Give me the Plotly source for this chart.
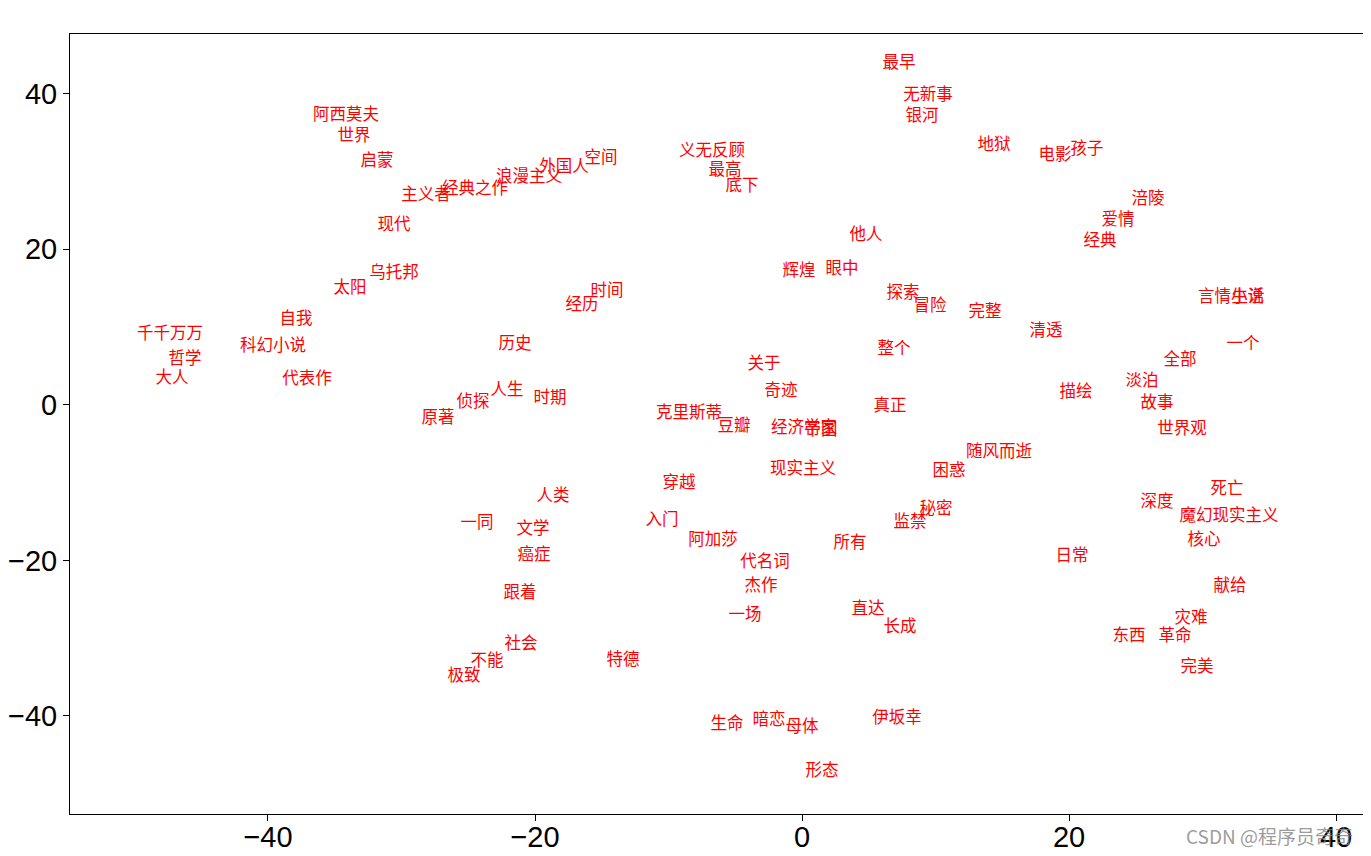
import plotly.graph_objects as go

words = ["阿西莫夫", "世界", "启蒙", "主义者", "经典之作", "现代", "乌托邦", "太阳", "自我", "千千万万",
         "科幻小说", "哲学", "大人", "代表作", "浪漫主义", "外国人", "空间", "义无反顾", "最高", "底下",
         "时间", "经历", "最早", "无新事", "银河", "地狱", "他人", "电影", "孩子", "涪陵",
         "爱情", "经典", "言情小说", "生活", "完整", "清透", "一个", "全部", "历史", "人生",
         "时期", "侦探", "原著", "关于", "奇迹", "克里斯蒂", "豆瓣", "经济学家", "帝国", "现实主义",
         "穿越", "人类", "一同", "文学", "入门", "阿加莎", "癌症", "代名词", "辉煌", "眼中",
         "探索", "冒险", "整个", "真正", "随风而逝", "困惑", "描绘", "淡泊", "故事", "世界观",
         "死亡", "深度", "魔幻现实主义", "核心", "日常", "献给", "灾难", "东西", "革命", "完美",
         "秘密", "监禁", "所有", "杰作", "一场", "直达", "长成", "生命", "暗恋", "母体",
         "伊坂幸", "形态", "跟着", "社会", "不能", "极致", "特德"]

x_vals = [-34.16, -33.56, -31.84, -28.16, -24.49, -30.56, -30.56, -33.86, -37.90, -47.34,
          -39.63, -46.22, -47.19, -37.08, -20.45, -17.83, -15.06, -6.74, -5.77, -4.49,
          -14.61, -16.48, 7.27, 9.44, 8.99, 14.38, 4.79, 18.95, 21.35, 25.92,
          23.67, 22.32, 32.13, 33.41, 13.71, 18.28, 33.03, 28.31, -21.50, -22.10,
          -18.88, -24.64, -27.27, -2.85, -1.57, -8.46, -5.09, 0.15, 1.42, 0.07,
          -9.21, -18.65, -24.34, -20.15, -10.49, -6.67, -20.07, -2.77, -0.22, 3.00,
          7.57, 9.59, 6.89, 6.59, 14.76, 11.01, 20.52, 25.47, 26.59, 28.46,
          31.84, 26.59, 31.99, 30.11, 20.22, 32.06, 29.14, 24.49, 27.94, 29.59,
          10.04, 8.09, 3.60, -3.07, -4.27, 4.94, 7.34, -5.62, -2.47, 0.00,
          7.12, 1.50, -21.12, -21.05, -23.60, -25.32, -13.41]

y_vals = [37.13, 34.43, 31.22, 26.84, 27.61, 22.98, 16.81, 14.88, 10.89, 8.96,
          7.42, 5.75, 3.31, 3.18, 29.16, 30.44, 31.60, 32.50, 30.06, 28.00,
          14.50, 12.69, 43.82, 39.70, 37.00, 33.27, 21.70, 31.99, 32.76, 26.33,
          23.63, 20.93, 13.72, 13.72, 11.79, 9.35, 7.68, 5.62, 7.68, 1.76,
          0.73, 0.22, -1.84, 5.11, 1.63, -1.20, -2.87, -3.13, -3.38, -8.40,
          -10.20, -11.87, -15.34, -16.12, -14.96, -17.53, -19.46, -20.36, 17.07, 17.32,
          14.24, 12.57, 7.04, -0.30, -6.21, -8.66, 1.50, 2.92, 0.09, -3.25,
          -10.97, -12.64, -14.44, -17.53, -19.59, -23.45, -27.56, -29.88, -29.88, -33.87,
          -13.54, -15.22, -17.92, -23.45, -27.18, -26.41, -28.72, -41.20, -40.68, -41.58,
          -40.42, -47.24, -24.35, -30.91, -33.09, -35.02, -32.96]

tick_vals = [-40, -20, 0, 20, 40]
x_tick_text = ["−40", "−20", "0", "20", "40"]
y_tick_text = ["−40", "−20", "0", "20", "40"]

fig = go.Figure()
fig.add_trace(go.Scatter(
    x=x_vals, y=y_vals, text=words, mode="text",
    textposition="middle center",
    textfont=dict(color="#ff0000", size=16.5, family="Noto Sans CJK SC"),
    hoverinfo="text", cliponaxis=False, showlegend=False,
))

axis_common = dict(
    showgrid=False, zeroline=False, showline=True, linecolor="black", linewidth=1,
    ticks="outside", ticklen=6, tickwidth=1, tickcolor="black",
    tickfont=dict(family="Liberation Sans", size=29, color="black"),
    tickvals=tick_vals, automargin=False,
)

fig.update_layout(
    width=1355, height=840,
    margin=dict(l=62, r=0, t=26, b=34),
    paper_bgcolor="white", plot_bgcolor="white",
    xaxis=dict(range=[-54.83, 42.02], ticktext=x_tick_text, mirror=True,
               ticklabelstandoff=-9, **axis_common),
    yaxis=dict(range=[-52.6, 47.68], ticktext=y_tick_text, mirror=False, **axis_common),
    annotations=[dict(
        text="CSDN @程序员奇奇", xref="paper", yref="paper",
        x=0.9938, y=-0.0282, xanchor="right", yanchor="middle", showarrow=False,
        font=dict(family="Noto Sans CJK SC", size=19, color="rgba(130,130,130,0.8)"),
    )],
)

fig.write_html("out.html")
